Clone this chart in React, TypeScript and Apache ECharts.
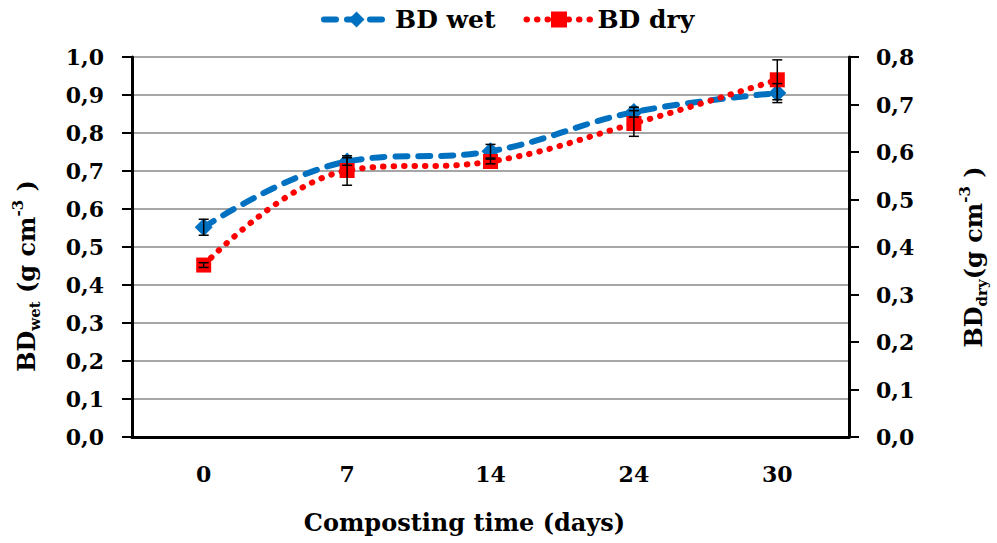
import React, { useEffect, useRef } from 'react';
import * as echarts from 'echarts';

const days = ['0', '7', '14', '24', '30'];
const wet = [0.552, 0.725, 0.752, 0.855, 0.905];
const wetErr = [0.021, 0.01, 0.018, 0.013, 0.025];
const dry = [0.362, 0.561, 0.58, 0.66, 0.752];
const dryErr = [0.005, 0.031, 0.005, 0.027, 0.042];
const leftTicks = { min: 0, max: 1, interval: 0.1 };
const rightTicks = { min: 0, max: 0.8, interval: 0.1 };

const F = '"DejaVu Serif", "Liberation Serif", serif';
const fmt = (v: number) => v.toFixed(1).replace('.', ',');

const BLUE = '#0070C0';
const RED = '#FF0000';
const wetLine = { color: BLUE, width: 6, type: [12, 11], cap: 'round' };
const dryLine = { color: RED, width: 6, type: [0.5, 10], cap: 'round' };

const errSeries = (name: string, vals: number[], errs: number[], axis: number) => ({
  type: 'custom',
  name,
  yAxisIndex: axis,
  z: 5,
  data: vals.map((v, i) => [i, v, errs[i]]),
  encode: { x: 0, y: 1 },
  renderItem: (params: any, api: any) => {
    const x = api.value(0);
    const v = api.value(1);
    const e = api.value(2);
    const hi = api.coord([x, v + e]);
    const lo = api.coord([x, v - e]);
    const w = 5;
    const st = { stroke: '#000', lineWidth: 1.5 };
    return {
      type: 'group',
      children: [
        { type: 'line', shape: { x1: hi[0], y1: hi[1], x2: lo[0], y2: lo[1] }, style: st },
        { type: 'line', shape: { x1: hi[0] - w, y1: hi[1], x2: hi[0] + w, y2: hi[1] }, style: st },
        { type: 'line', shape: { x1: lo[0] - w, y1: lo[1], x2: lo[0] + w, y2: lo[1] }, style: st },
      ],
    };
  },
});

const nameRich = (size: number) => ({
  b: { fontFamily: F, fontWeight: 'bold', fontSize: size, lineHeight: 32, color: '#000' },
  s: { fontFamily: F, fontWeight: 'bold', fontSize: 15, lineHeight: 32, verticalAlign: 'bottom', color: '#000' },
  p: { fontFamily: F, fontWeight: 'bold', fontSize: 15, lineHeight: 26, verticalAlign: 'top', color: '#000' },
});

export default function App() {
  const ref = useRef<HTMLDivElement>(null);
  useEffect(() => {
    const chart = echarts.init(ref.current!, null, { renderer: 'svg' });
    chart.setOption({
      animation: false,
      backgroundColor: '#fff',
      textStyle: { fontFamily: F },
      legend: {
        top: 2,
        left: 316,
        itemWidth: 65,
        itemHeight: 20,
        itemGap: 28,
        data: [
          { name: 'BD wet', lineStyle: wetLine },
          { name: 'BD dry', lineStyle: dryLine },
        ],
        textStyle: { fontFamily: F, fontWeight: 'bold', fontSize: 25, color: '#000', padding: [0, 0, 0, 1] },
      },
      grid: { left: 132, right: 142, top: 57, bottom: 106 },
      xAxis: {
        type: 'category',
        data: days,
        boundaryGap: true,
        axisLine: { lineStyle: { color: '#000', width: 3 } },
        axisTick: { alignWithLabel: true, length: 6, lineStyle: { color: '#000', width: 2 } },
        axisLabel: { margin: 26, fontFamily: F, fontWeight: 'bold', fontSize: 22, color: '#000' },
        name: 'Composting time (days)',
        nameLocation: 'middle',
        nameGap: 73,
        nameTextStyle: { fontFamily: F, fontWeight: 'bold', fontSize: 24, color: '#000', padding: [0, 52, 0, 0] },
      },
      yAxis: [
        {
          type: 'value',
          ...leftTicks,
          position: 'left',
          axisLine: { show: true, lineStyle: { color: '#000', width: 3 } },
          axisTick: { show: true, length: 10, lineStyle: { color: '#000', width: 2 } },
          axisLabel: { margin: 28, formatter: fmt, fontFamily: F, fontWeight: 'bold', fontSize: 22, color: '#000' },
          splitLine: { show: true, lineStyle: { color: '#a6a6a6', width: 2 } },
          name: '{b|BD}{s|wet}{b| (g cm}{p|-3}{b| )}',
          nameLocation: 'middle',
          nameRotate: 90,
          nameGap: 90,
          nameTextStyle: { rich: nameRich(24), padding: [0, 58, 0, 0] },
        },
        {
          type: 'value',
          ...rightTicks,
          position: 'right',
          axisLine: { show: true, lineStyle: { color: '#000', width: 3 } },
          axisTick: { show: true, length: 10, lineStyle: { color: '#000', width: 2 } },
          axisLabel: { margin: 27, formatter: fmt, fontFamily: F, fontWeight: 'bold', fontSize: 22, color: '#000' },
          splitLine: { show: false },
          name: '{b|BD}{s|dry}{b|(g cm}{p|-3}{b| )}',
          nameLocation: 'middle',
          nameRotate: 90,
          nameGap: 108,
          nameTextStyle: { rich: nameRich(24), padding: [0, 20, 0, 0] },
        },
      ],
      series: [
        {
          name: 'BD wet',
          type: 'line',
          yAxisIndex: 0,
          data: wet,
          smooth: 0.4,
          symbol: 'diamond',
          symbolSize: 18,
          itemStyle: { color: BLUE },
          lineStyle: wetLine,
          z: 3,
        },
        {
          name: 'BD dry',
          type: 'line',
          yAxisIndex: 1,
          data: dry,
          smooth: 0.4,
          symbol: 'rect',
          symbolSize: 15,
          itemStyle: { color: RED },
          lineStyle: dryLine,
          z: 4,
        },
        errSeries('wetErr', wet, wetErr, 0),
        errSeries('dryErr', dry, dryErr, 1),
      ],
    });
    return () => chart.dispose();
  }, []);
  return <div ref={ref} style={{ position: 'fixed', left: 0, top: 0, width: 997, height: 543 }} />;
}
